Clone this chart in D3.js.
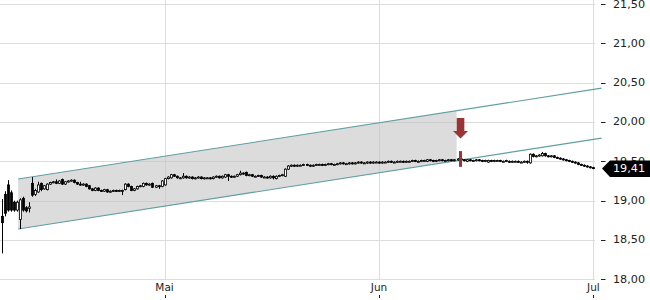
<!DOCTYPE html>
<html>
<head>
<meta charset="utf-8">
<script src="https://cdn.jsdelivr.net/npm/d3@7"></script>
<style>
  body { margin: 0; background: #fff; }
  svg { display: block; font-family: "DejaVu Sans", sans-serif; }
</style>
</head>
<body>
<div id="chart"></div>
<script>
// candles, one per index (oldest first)
const opens = [18.80,19.08,19.20,19.10,18.98,18.88,18.76,19.03,18.91,18.90,
  19.22,19.08,19.11,19.22,19.15,19.14,19.21,19.23,19.24,19.22,
  19.27,19.21,19.24,19.25,19.26,19.23,19.21,19.20,19.21,19.19,
  19.15,19.13,19.16,19.13,19.12,19.14,19.11,19.12,19.13,19.12,
  19.13,19.14,19.21,19.18,19.13,19.15,19.18,19.18,19.22,19.20,
  19.22,19.17,19.19,19.18,19.20,19.28,19.29,19.33,19.31,19.29,
  19.29,19.31,19.29,19.30,19.28,19.29,19.30,19.28,19.29,19.29,
  19.28,19.30,19.31,19.29,19.30,19.33,19.31,19.30,19.31,19.33,
  19.35,19.36,19.32,19.33,19.31,19.31,19.32,19.30,19.30,19.29,
  19.31,19.28,19.31,19.32,19.31,19.40,19.44,19.45,19.44,19.45,
  19.45,19.46,19.45,19.44,19.45,19.46,19.46,19.45,19.46,19.47,
  19.46,19.46,19.47,19.48,19.47,19.47,19.48,19.47,19.48,19.49,
  19.48,19.48,19.49,19.48,19.49,19.49,19.48,19.49,19.49,19.50,
  19.49,19.49,19.50,19.50,19.49,19.50,19.50,19.51,19.50,19.50,
  19.51,19.50,19.52,19.51,19.50,19.51,19.52,19.51,19.51,19.52,
  19.51,19.52,19.53,19.52,19.50,19.52,19.51,19.51,19.52,19.51,
  19.50,19.49,19.51,19.50,19.51,19.51,19.50,19.50,19.50,19.49,
  19.50,19.50,19.49,19.49,19.50,19.48,19.59,19.56,19.57,19.57,
  19.60,19.57,19.56,19.57,19.55,19.54,19.53,19.52,19.51,19.50,
  19.49,19.48,19.46,19.45,19.44,19.43,19.42];
const highs = [19.02,19.12,19.26,19.13,19.00,19.00,19.03,19.05,18.93,18.98,
  19.30,19.15,19.24,19.23,19.20,19.22,19.24,19.25,19.27,19.26,
  19.28,19.25,19.26,19.27,19.27,19.24,19.24,19.22,19.22,19.20,
  19.16,19.17,19.17,19.14,19.15,19.15,19.13,19.14,19.14,19.14,
  19.14,19.22,19.22,19.19,19.16,19.19,19.20,19.23,19.23,19.22,
  19.23,19.20,19.20,19.26,19.29,19.31,19.34,19.34,19.32,19.30,
  19.35,19.32,19.31,19.31,19.30,19.31,19.31,19.30,19.30,19.30,
  19.31,19.32,19.32,19.32,19.34,19.34,19.32,19.32,19.34,19.38,
  19.36,19.37,19.34,19.34,19.32,19.33,19.33,19.31,19.31,19.32,
  19.32,19.32,19.33,19.34,19.41,19.45,19.46,19.46,19.46,19.46,
  19.47,19.47,19.46,19.46,19.47,19.47,19.47,19.47,19.48,19.48,
  19.47,19.48,19.49,19.49,19.48,19.49,19.49,19.49,19.50,19.50,
  19.49,19.50,19.50,19.50,19.50,19.50,19.50,19.50,19.51,19.51,
  19.50,19.51,19.51,19.51,19.51,19.51,19.52,19.52,19.51,19.52,
  19.52,19.53,19.53,19.52,19.52,19.53,19.53,19.52,19.53,19.53,
  19.53,19.54,19.54,19.53,19.53,19.53,19.52,19.53,19.53,19.52,
  19.52,19.52,19.52,19.52,19.52,19.52,19.51,19.52,19.51,19.51,
  19.51,19.51,19.50,19.51,19.51,19.60,19.60,19.58,19.59,19.62,
  19.61,19.58,19.58,19.58,19.56,19.55,19.54,19.53,19.52,19.51,
  19.50,19.49,19.47,19.46,19.45,19.44,19.43];
const lows = [18.33,18.80,18.86,18.86,18.86,18.86,18.64,18.86,18.85,18.85,
  19.05,19.06,19.10,19.12,19.14,19.13,19.20,19.22,19.21,19.21,
  19.20,19.20,19.23,19.24,19.22,19.20,19.19,19.19,19.17,19.14,
  19.12,19.12,19.12,19.11,19.11,19.10,19.10,19.11,19.11,19.11,
  19.07,19.13,19.17,19.12,19.12,19.14,19.17,19.17,19.19,19.19,
  19.16,19.16,19.15,19.17,19.19,19.27,19.28,19.30,19.28,19.28,
  19.28,19.28,19.28,19.27,19.27,19.28,19.27,19.27,19.28,19.27,
  19.27,19.29,19.28,19.28,19.29,19.25,19.29,19.29,19.30,19.32,
  19.33,19.31,19.31,19.30,19.30,19.30,19.29,19.29,19.28,19.28,
  19.27,19.27,19.30,19.31,19.30,19.39,19.43,19.43,19.43,19.44,
  19.44,19.44,19.43,19.43,19.44,19.45,19.44,19.44,19.45,19.45,
  19.45,19.45,19.46,19.46,19.46,19.46,19.46,19.46,19.47,19.47,
  19.47,19.47,19.47,19.47,19.48,19.47,19.47,19.48,19.48,19.48,
  19.48,19.48,19.49,19.48,19.48,19.49,19.49,19.49,19.49,19.49,
  19.50,19.49,19.50,19.49,19.49,19.50,19.50,19.50,19.50,19.50,
  19.50,19.51,19.51,19.50,19.49,19.50,19.50,19.50,19.50,19.49,
  19.49,19.48,19.49,19.49,19.50,19.49,19.49,19.49,19.48,19.48,
  19.49,19.48,19.48,19.48,19.47,19.47,19.55,19.55,19.56,19.56,
  19.56,19.55,19.55,19.54,19.53,19.52,19.51,19.50,19.49,19.48,
  19.47,19.45,19.44,19.43,19.42,19.41,19.40];
const closes = [18.72,18.84,18.88,18.88,18.88,18.98,19.01,18.88,18.87,18.92,
  19.07,19.13,19.20,19.14,19.19,19.21,19.23,19.24,19.22,19.25,
  19.21,19.24,19.25,19.26,19.23,19.21,19.20,19.21,19.18,19.15,
  19.13,19.16,19.13,19.12,19.14,19.11,19.12,19.13,19.12,19.13,
  19.13,19.21,19.18,19.13,19.15,19.18,19.19,19.22,19.20,19.21,
  19.17,19.19,19.18,19.25,19.28,19.30,19.33,19.31,19.29,19.29,
  19.31,19.29,19.30,19.28,19.29,19.30,19.28,19.29,19.29,19.28,
  19.30,19.31,19.29,19.31,19.33,19.31,19.30,19.31,19.33,19.35,
  19.34,19.32,19.33,19.31,19.31,19.32,19.30,19.30,19.29,19.31,
  19.29,19.31,19.32,19.33,19.40,19.44,19.45,19.44,19.45,19.45,
  19.46,19.45,19.44,19.45,19.46,19.46,19.45,19.46,19.47,19.46,
  19.46,19.47,19.48,19.47,19.47,19.48,19.47,19.48,19.49,19.48,
  19.48,19.49,19.48,19.49,19.49,19.48,19.49,19.49,19.50,19.49,
  19.49,19.50,19.50,19.49,19.50,19.50,19.51,19.50,19.50,19.51,
  19.51,19.52,19.51,19.50,19.51,19.52,19.51,19.51,19.52,19.51,
  19.52,19.53,19.52,19.51,19.52,19.51,19.51,19.52,19.51,19.50,
  19.51,19.51,19.50,19.51,19.51,19.50,19.50,19.51,19.49,19.50,
  19.50,19.49,19.49,19.50,19.49,19.59,19.56,19.57,19.58,19.60,
  19.57,19.56,19.57,19.55,19.54,19.53,19.52,19.51,19.50,19.49,
  19.48,19.46,19.45,19.44,19.43,19.42,19.41];

const yTicks = [18, 18.5, 19, 19.5, 20, 20.5, 21, 21.5];
const monthLabels = ["Mai", "Jun", "Jul"];
const monthIdx = [54, 125, 196];

// trend channel (index, price) and the part that is shaded
const channelIdx = [5.5, 198.7];
const channelUpper = [19.275, 20.43];
const channelLower = [18.64, 19.795];
const channelFillEnd = 150.7;

// sell signal
const signalIdx = 152;
const signalBar = [19.43, 19.63];
const signalArrow = [20.05, 19.885, 19.79]; // top, head base, tip

const lastPrice = 19.41;

const width = 650, height = 300;
const plotRight = 595;

const x = d3.scaleLinear().domain([0, 196]).range([1.5, 593.4]);
const y = d3.scaleLinear().domain([18, 21.5]).range([279.3, 4.0]);
const fmt = v => d3.format(".2f")(v).replace(".", ",");

const svg = d3.select("#chart").append("svg")
  .attr("width", width)
  .attr("height", height);

// grid
svg.append("g").selectAll("line").data(yTicks).enter().append("line")
  .attr("x1", 0).attr("x2", plotRight)
  .attr("y1", d => Math.round(y(d)) + 0.5).attr("y2", d => Math.round(y(d)) + 0.5)
  .attr("stroke", "#dcdcdc");
svg.append("g").selectAll("line").data(monthIdx).enter().append("line")
  .attr("x1", d => Math.round(x(d)) + 0.5).attr("x2", d => Math.round(x(d)) + 0.5)
  .attr("y1", 0).attr("y2", Math.round(y(18)))
  .attr("stroke", "#dcdcdc");

// channel
const upperAt = i => channelUpper[0] + (channelUpper[1] - channelUpper[0]) * (i - channelIdx[0]) / (channelIdx[1] - channelIdx[0]);
const lowerAt = i => channelLower[0] + (channelLower[1] - channelLower[0]) * (i - channelIdx[0]) / (channelIdx[1] - channelIdx[0]);

svg.append("path")
  .attr("d", d3.line()([
    [x(channelIdx[0]), y(upperAt(channelIdx[0]))],
    [x(channelFillEnd), y(upperAt(channelFillEnd))],
    [x(channelFillEnd), y(lowerAt(channelFillEnd))],
    [x(channelIdx[0]), y(lowerAt(channelIdx[0]))]
  ]) + "Z")
  .attr("fill", "#c4c4c4")
  .attr("fill-opacity", 0.6);

svg.append("line")
  .attr("x1", x(channelIdx[0])).attr("y1", y(channelUpper[0]))
  .attr("x2", x(channelIdx[1])).attr("y2", y(channelUpper[1]))
  .attr("stroke", "#5f9fa2").attr("stroke-width", 1.1);
svg.append("line")
  .attr("x1", x(channelIdx[0])).attr("y1", y(channelLower[0]))
  .attr("x2", x(channelIdx[1])).attr("y2", y(channelLower[1]))
  .attr("stroke", "#5f9fa2").attr("stroke-width", 1.1);

// candles
const idx = d3.range(opens.length);
const candles = svg.append("g").selectAll("g").data(idx).enter().append("g");

candles.append("line")
  .attr("x1", i => Math.round(x(i)) + 0.5).attr("x2", i => Math.round(x(i)) + 0.5)
  .attr("y1", i => y(highs[i])).attr("y2", i => y(lows[i]))
  .attr("stroke", "#000").attr("stroke-width", 1);

candles.append("rect")
  .attr("x", i => Math.round(x(i)) - 0.5)
  .attr("width", 2)
  .attr("y", i => y(Math.max(opens[i], closes[i])))
  .attr("height", i => Math.max(1, Math.abs(y(opens[i]) - y(closes[i]))))
  .attr("fill", i => closes[i] >= opens[i] ? "#fff" : "#000")
  .attr("stroke", "#000")
  .attr("stroke-width", 0.8);

// signal
svg.append("rect")
  .attr("x", x(signalIdx) - 1.5).attr("width", 3)
  .attr("y", y(signalBar[1])).attr("height", y(signalBar[0]) - y(signalBar[1]))
  .attr("fill", "#9b3434");
const ax = x(signalIdx);
svg.append("path")
  .attr("d", d3.line()([
    [ax - 3.8, y(signalArrow[0])], [ax + 3.8, y(signalArrow[0])],
    [ax + 3.8, y(signalArrow[1])], [ax + 7.5, y(signalArrow[1])],
    [ax, y(signalArrow[2])], [ax - 7.5, y(signalArrow[1])],
    [ax - 3.8, y(signalArrow[1])]
  ]) + "Z")
  .attr("fill", "#9b3434");

// y axis (right)
const yAxis = svg.append("g");
yAxis.selectAll("line").data(yTicks).enter().append("line")
  .attr("x1", 601).attr("x2", 605.5)
  .attr("y1", d => Math.round(y(d)) + 0.5).attr("y2", d => Math.round(y(d)) + 0.5)
  .attr("stroke", "#222");
yAxis.selectAll("text").data(yTicks).enter().append("text")
  .attr("x", 613).attr("y", d => y(d))
  .attr("dominant-baseline", "central")
  .attr("font-size", 11.2)
  .attr("fill", "#222")
  .text(fmt);

// x axis labels
const xAxis = svg.append("g");
xAxis.selectAll("text").data(monthIdx).enter().append("text")
  .attr("x", d => x(d)).attr("y", 291)
  .attr("text-anchor", "middle")
  .attr("font-size", 10.5)
  .attr("fill", "#222")
  .text((d, i) => monthLabels[i]);
xAxis.selectAll("line").data(monthIdx).enter().append("line")
  .attr("x1", d => Math.round(x(d)) + 0.5).attr("x2", d => Math.round(x(d)) + 0.5)
  .attr("y1", 295).attr("y2", 298)
  .attr("stroke", "#222");

// last price tag
const ly = y(lastPrice);
svg.append("path")
  .attr("d", d3.line()([[602, ly], [610, ly - 8], [650, ly - 8], [650, ly + 8.5], [610, ly + 8.5]]) + "Z")
  .attr("fill", "#000");
svg.append("text")
  .attr("x", 613).attr("y", ly)
  .attr("dominant-baseline", "central")
  .attr("font-size", 11.2)
  .attr("fill", "#fff")
  .text(fmt(lastPrice));
</script>
</body>
</html>
